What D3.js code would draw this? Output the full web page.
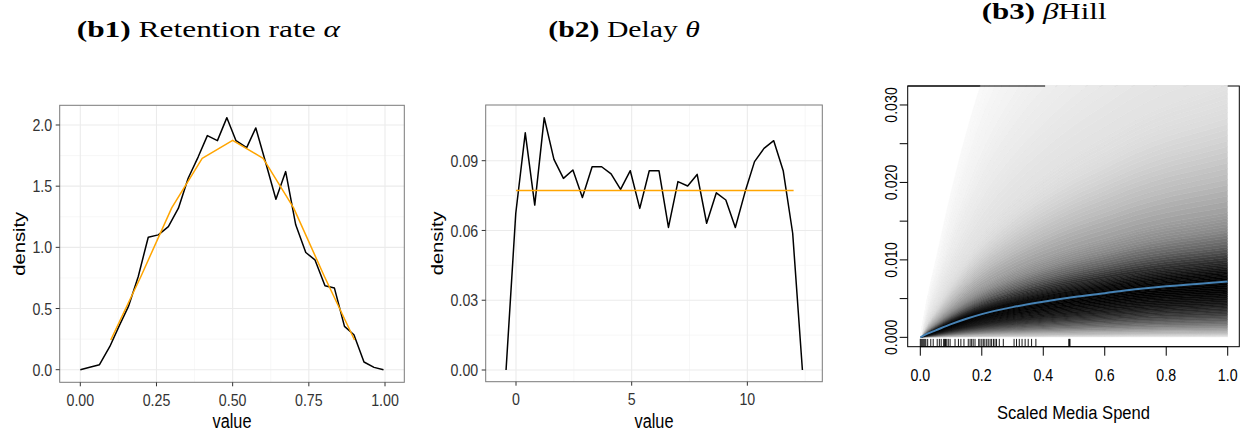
<!DOCTYPE html>
<html><head><meta charset="utf-8">
<script src="https://cdn.jsdelivr.net/npm/d3@7"></script>
<style>body{margin:0;background:#fff}svg{display:block}</style>
</head><body>
<svg id="c" width="1246" height="434"></svg>
<script>
// ---------------- DATA ----------------
// (b1) Retention rate alpha: posterior density (black) and prior (orange)
const alphaX = [0.000,0.031,0.063,0.097,0.128,0.158,0.190,0.223,0.256,0.289,0.322,0.354,0.387,0.417,0.450,0.481,0.511,0.546,0.576,0.609,0.642,0.674,0.707,0.740,0.770,0.803,0.834,0.867,0.898,0.931,0.964,0.995];
const alphaY = [0.000,0.020,0.041,0.190,0.360,0.517,0.760,1.083,1.102,1.170,1.320,1.565,1.740,1.913,1.872,2.060,1.872,1.815,1.976,1.687,1.393,1.619,1.184,0.958,0.898,0.686,0.667,0.354,0.286,0.063,0.019,0.000];
const alphaPriorX = [0.1,0.2,0.3,0.4,0.5,0.6,0.7,0.8,0.9];
const alphaPriorY = [0.243,0.768,1.323,1.728,1.875,1.728,1.323,0.768,0.243];
const alphaXTicks = [0,0.25,0.5,0.75,1];
const alphaXMinor = [0.125,0.375,0.625,0.875];
const alphaYTicks = [0,0.5,1,1.5,2];
const alphaYMinor = [0.25,0.75,1.25,1.75];

// (b2) Delay theta
const thetaX = [-0.43,-0.01,0.40,0.81,1.22,1.64,2.05,2.46,2.87,3.29,3.70,4.11,4.52,4.94,5.35,5.76,6.18,6.59,7.00,7.42,7.83,8.24,8.66,9.07,9.48,9.90,10.31,10.72,11.14,11.55,11.96,12.38];
const thetaY = [0,0.0674,0.1020,0.0709,0.1085,0.0906,0.0824,0.0860,0.0742,0.0874,0.0874,0.0843,0.0777,0.0857,0.0695,0.0857,0.0857,0.0613,0.0810,0.0791,0.0841,0.0631,0.0762,0.0731,0.0613,0.0765,0.0896,0.0953,0.0986,0.0857,0.0588,0];
const thetaPriorX = [0,12];
const thetaPriorY = [0.0772,0.0772];
const thetaXTicks = [0,5,10];
const thetaXMinor = [2.5,7.5,12.5];
const thetaYTicks = [0,0.03,0.06,0.09];
const thetaYMinor = [0.015,0.045,0.075,0.105];

// (b3) beta*Hill: median curve, shading profile (ratio to median -> grey level), rug
const hillX = [0,0.025,0.05,0.1,0.15,0.2,0.3,0.4,0.5,0.6,0.7,0.8,0.9,1.0];
const hillMedian = [0,0.0005,0.0009,0.0017,0.0024,0.0030,0.0039,0.0046,0.0052,0.0057,0.0062,0.0066,0.0069,0.0072];
const shadeRatio = [0,0.077,0.26,0.44,0.6,0.8,1.0,1.16,1.34,1.62,1.93,2.24,2.83,3.42,4.03,4.53,6,8,11];
const shadeGrey  = [240,192,112,56,24,6,0,10,40,96,138,160,188,208,222,226,234,242,250];
const rugX = [0,0.003,0.006,0.009,0.012,0.015,0.018,0.024,0.034,0.042,0.055,0.062,0.068,0.076,0.079,0.082,0.086,0.091,0.097,0.113,0.124,0.132,0.142,0.156,0.162,0.167,0.172,0.178,0.19,0.194,0.2,0.205,0.21,0.216,0.221,0.227,0.232,0.238,0.243,0.248,0.257,0.27,0.305,0.313,0.322,0.331,0.341,0.351,0.362,0.376,0.483,0.485,0.487];
const hillXTicks = [0,0.2,0.4,0.6,0.8,1.0];
const hillYTicks = [0,0.005,0.010,0.015,0.020,0.025,0.030];
const hillYLabels = [0,0.010,0.020,0.030];
const hillTop = 0.03245;     // top of plotting region (data units)
const borderRatioCut = 7;    // where shading starts covering the top frame

// ---------------- DRAWING ----------------
const svg = d3.select("#c");
const SANS = "'Liberation Sans', Arial, Helvetica, sans-serif";
const SERIF = "'Liberation Serif', 'DejaVu Serif', serif";

function txt(g, x, y, s, o) {
  o = o || {};
  const t = g.append("text")
    .attr("transform", `translate(${x},${y}) scale(${o.sx||1},${o.sy||1})` + (o.rot ? ` rotate(${o.rot})` : ""))
    .attr("font-family", o.family || SANS)
    .attr("font-size", o.size || 14)
    .attr("fill", o.fill || "#000")
    .attr("text-anchor", o.anchor || "middle")
    .text(s);
  if (o.dy) t.attr("dy", o.dy);
  return t;
}

function ggPanel(cfg) {
  const g = svg.append("g");
  const x = d3.scaleLinear().domain(cfg.xDomain).range([cfg.left, cfg.right]);
  const y = d3.scaleLinear().domain(cfg.yDomain).range([cfg.bottom, cfg.top]);
  g.append("rect").attr("x", cfg.left).attr("y", cfg.top)
    .attr("width", cfg.right - cfg.left).attr("height", cfg.bottom - cfg.top).attr("fill", "#fff");
  // minor grid
  cfg.xMinor.forEach(v => g.append("line").attr("x1", x(v)).attr("x2", x(v)).attr("y1", cfg.top).attr("y2", cfg.bottom)
    .attr("stroke", "#f3f3f3").attr("stroke-width", 0.7));
  cfg.yMinor.forEach(v => g.append("line").attr("y1", y(v)).attr("y2", y(v)).attr("x1", cfg.left).attr("x2", cfg.right)
    .attr("stroke", "#f3f3f3").attr("stroke-width", 0.7));
  // major grid
  cfg.xTicks.forEach(v => g.append("line").attr("x1", x(v)).attr("x2", x(v)).attr("y1", cfg.top).attr("y2", cfg.bottom)
    .attr("stroke", "#ebebeb").attr("stroke-width", 1.1));
  cfg.yTicks.forEach(v => g.append("line").attr("y1", y(v)).attr("y2", y(v)).attr("x1", cfg.left).attr("x2", cfg.right)
    .attr("stroke", "#ebebeb").attr("stroke-width", 1.1));
  // lines
  const line = d3.line().x(d => x(d[0])).y(d => y(d[1]));
  g.append("path").datum(d3.zip(cfg.lineX, cfg.lineY)).attr("d", line)
    .attr("fill", "none").attr("stroke", "#000").attr("stroke-width", 1.5).attr("stroke-linejoin", "round");
  g.append("path").datum(d3.zip(cfg.priorX, cfg.priorY)).attr("d", line)
    .attr("fill", "none").attr("stroke", "#FFA500").attr("stroke-width", 1.5).attr("stroke-linejoin", "round");
  // border
  g.append("rect").attr("x", cfg.left).attr("y", cfg.top)
    .attr("width", cfg.right - cfg.left).attr("height", cfg.bottom - cfg.top)
    .attr("fill", "none").attr("stroke", "#7a7a7a").attr("stroke-width", 1);
  // axes (ticks + labels)
  const tl = 4;
  cfg.xTicks.forEach(v => {
    g.append("line").attr("x1", x(v)).attr("x2", x(v)).attr("y1", cfg.bottom).attr("y2", cfg.bottom + tl)
      .attr("stroke", "#333").attr("stroke-width", 1);
    txt(g, x(v), cfg.bottom + 23.5, cfg.xFmt(v), {size: 14.2, fill: "#333", sy: 1.22});
  });
  cfg.yTicks.forEach(v => {
    g.append("line").attr("x1", cfg.left - tl).attr("x2", cfg.left).attr("y1", y(v)).attr("y2", y(v))
      .attr("stroke", "#333").attr("stroke-width", 1);
    txt(g, cfg.left - 7.5, y(v) + 6.1, cfg.yFmt(v), {size: 14.2, fill: "#333", anchor: "end", sy: 1.22});
  });
  txt(g, (cfg.left + cfg.right) / 2, 428, "value", {size: 16.3, sy: 1.24});
  txt(g, cfg.yTitleX, (cfg.top + cfg.bottom) / 2, "density", {size: 16.3, sy: 1.24, rot: -90});
}

ggPanel({
  left: 59.7, right: 404.3, top: 105.3, bottom: 382.3,
  xDomain: [-0.0676, 1.0633], yDomain: [-0.103, 2.161],
  xTicks: alphaXTicks, xMinor: alphaXMinor, yTicks: alphaYTicks, yMinor: alphaYMinor,
  xFmt: d3.format(".2f"), yFmt: d3.format(".1f"),
  lineX: alphaX, lineY: alphaY, priorX: alphaPriorX, priorY: alphaPriorY,
  yTitleX: 25
});
ggPanel({
  left: 485.7, right: 822.3, top: 105, bottom: 381.7,
  xDomain: [-1.31, 13.24], yDomain: [-0.00503, 0.11395],
  xTicks: thetaXTicks, xMinor: thetaXMinor, yTicks: thetaYTicks, yMinor: thetaYMinor,
  xFmt: d3.format("d"), yFmt: d3.format(".2f"),
  lineX: thetaX, lineY: thetaY, priorX: thetaPriorX, priorY: thetaPriorY,
  yTitleX: 443
});

// ---- panel b3 (base-R style) ----
(function () {
  const L = 907.7, R = 1239.3, T = 86, B = 346.7;
  const g = svg.append("g");
  const x = d3.scaleLinear().domain([-0.041, 1.0377]).range([L, R]);
  const y = d3.scaleLinear().domain([-0.00121, hillTop]).range([B, T]);
  // frame
  g.append("rect").attr("x", L).attr("y", T).attr("width", R - L).attr("height", B - T)
    .attr("fill", "none").attr("stroke", "#000").attr("stroke-width", 1);
  // shading bands
  const clipId = "hillclip";
  svg.append("clipPath").attr("id", clipId).append("rect")
    .attr("x", x(0)).attr("y", y(hillTop) - 1).attr("width", x(1) - x(0)).attr("height", y(0) - y(hillTop) + 1);
  const bandG = g.append("g").attr("clip-path", `url(#${clipId})`);
  const pts = hillX.map((v, i) => ({x: v, m: hillMedian[i]}));
  const NSUB = 6;
  for (let i = 0; i < shadeRatio.length - 1; i++) {
    for (let k = 0; k < NSUB; k++) {
      const r0 = shadeRatio[i] + (shadeRatio[i + 1] - shadeRatio[i]) * k / NSUB;
      const r1 = shadeRatio[i] + (shadeRatio[i + 1] - shadeRatio[i]) * (k + 1) / NSUB;
      const gv = Math.round(shadeGrey[i] + (shadeGrey[i + 1] - shadeGrey[i]) * (k + 0.5) / NSUB);
      const col = d3.rgb(gv, gv, gv).formatHex();
      const area = d3.area().curve(d3.curveMonotoneX)
        .x(d => x(d.x)).y0(d => y(d.m * r0)).y1(d => y(d.m * r1));
      bandG.append("path").datum(pts).attr("d", area)
        .attr("fill", col).attr("stroke", col).attr("stroke-width", 0.6);
    }
  }
  // top frame remains visible where shading is (near) white
  const mInterp = d3.scaleLinear().domain(hillX).range(hillMedian);
  let xc = 0;
  for (let t = 0.001; t <= 1; t += 0.001) { if (hillTop / mInterp(t) < borderRatioCut) { xc = t; break; } }
  g.append("line").attr("x1", L).attr("x2", x(xc)).attr("y1", T).attr("y2", T)
    .attr("stroke", "#000").attr("stroke-width", 1);
  // median curve
  g.append("path").datum(pts)
    .attr("d", d3.line().curve(d3.curveMonotoneX).x(d => x(d.x)).y(d => y(d.m)))
    .attr("fill", "none").attr("stroke", "#4682b4").attr("stroke-width", 2);
  // rug
  rugX.forEach(v => g.append("line").attr("x1", x(v)).attr("x2", x(v)).attr("y1", B).attr("y2", B - 7.8)
    .attr("stroke", "#000").attr("stroke-width", 0.9));
  // x axis
  g.append("line").attr("x1", x(0)).attr("x2", x(1)).attr("y1", B).attr("y2", B).attr("stroke", "#000");
  hillXTicks.forEach(v => {
    g.append("line").attr("x1", x(v)).attr("x2", x(v)).attr("y1", B).attr("y2", B + 9).attr("stroke", "#000");
    txt(g, x(v), 380.5, d3.format(".1f")(v), {size: 14.2, sy: 1.13});
  });
  // y axis
  hillYTicks.forEach(v => {
    g.append("line").attr("x1", L - 8).attr("x2", L).attr("y1", y(v)).attr("y2", y(v)).attr("stroke", "#000");
  });
  hillYLabels.forEach(v => {
    txt(g, 897, y(v), d3.format(".3f")(v), {size: 14.2, sx: 1.1, rot: -90});
  });
  txt(g, (L + R) / 2, 418.5, "Scaled Media Spend", {size: 16.6, sy: 1.12});
})();

// ---- titles ----
function title(xStart, baseline, targetW, parts) {
  const t = svg.append("text").attr("font-family", SERIF).attr("font-size", 23).attr("x", 0).attr("y", 0);
  parts.forEach(p => {
    const s = t.append("tspan").text(p.t);
    if (p.b) s.attr("font-weight", "bold");
    if (p.i) s.attr("font-style", "italic");
  });
  const w = t.node().getComputedTextLength();
  t.attr("transform", `translate(${xStart},${baseline}) scale(${targetW / w},1)`);
}
title(76.7, 37.3, 263.3, [{t: "(b1)", b: 1}, {t: " Retention rate "}, {t: "α", i: 1}]);
title(548.3, 37.3, 151.7, [{t: "(b2)", b: 1}, {t: " Delay "}, {t: "θ", i: 1}]);
title(981.7, 19, 125, [{t: "(b3)", b: 1}, {t: " "}, {t: "β", i: 1}, {t: "Hill"}]);
</script>
</body></html>
